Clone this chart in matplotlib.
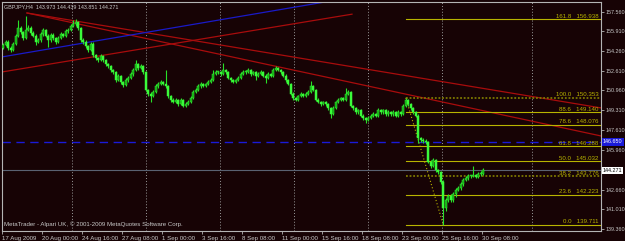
import matplotlib.pyplot as plt

# GBPJPY H4 candles, 17 Aug - 30 Sep 2009
closes = [
    154.77, 155.02, 154.52, 154.35, 154.86, 155.53, 156.20, 155.86, 155.36, 156.03,
    156.20, 155.78, 155.53, 155.02, 155.19, 155.69, 156.03, 155.53, 155.19, 155.61,
    155.36, 155.02, 155.36, 155.69, 155.53, 155.94, 156.03, 156.36, 156.53, 156.70,
    156.20, 155.19, 155.02, 154.69, 154.35, 154.86, 153.93, 153.68, 153.52, 153.85,
    153.52, 153.18, 153.01, 152.68, 152.51, 151.84, 152.18, 151.67, 151.42, 151.84,
    152.01, 152.34, 152.68, 153.18, 152.85, 153.01, 152.51, 151.00, 150.67, 150.50,
    150.84, 151.34, 151.51, 151.67, 151.51, 151.34, 150.50, 150.17, 150.00, 150.17,
    149.83, 150.17, 149.66, 149.83, 150.00, 150.33, 150.84, 151.00, 151.34, 151.51,
    151.34, 151.51, 151.67, 151.84, 152.34, 152.51, 152.51, 152.34, 152.68, 152.51,
    152.01, 151.84, 151.67, 151.84, 152.01, 152.34, 152.51, 152.51, 152.68, 152.34,
    152.51, 152.18, 152.34, 152.51, 152.18, 152.01, 152.34, 152.18, 152.68, 152.85,
    152.68, 152.51, 152.18, 151.84, 151.51, 150.67, 150.33, 150.17, 150.50, 150.67,
    150.50, 150.67, 150.84, 151.34, 151.00, 150.17, 150.00, 149.83, 150.00, 149.83,
    149.49, 148.99, 149.49, 150.00, 150.17, 150.33, 150.17, 150.67, 150.84, 149.66,
    149.49, 149.16, 149.33, 148.83, 148.66, 148.49, 148.66, 148.83, 148.99, 148.83,
    149.33, 149.16, 149.33, 148.99, 149.16, 148.99, 149.16, 148.83, 149.16, 148.99,
    149.66, 150.17, 149.83, 149.49, 149.16, 148.83, 146.98, 146.82, 146.73, 146.65,
    144.97, 144.64, 145.14, 144.30, 144.13, 143.30, 141.12, 141.79, 142.13, 141.79,
    142.29, 142.63, 142.79, 143.13, 143.47, 143.63, 143.80, 143.80, 143.88, 143.72,
    143.97, 143.973, 144.271,
]
highs = [
    154.95, 155.20, 155.15, 154.66, 155.00, 155.70, 156.87, 156.35, 155.98, 157.20,
    156.45, 156.32, 155.90, 155.65, 155.35, 155.85, 156.20, 156.15, 155.65, 155.78,
    155.75, 155.48, 155.50, 155.85, 155.80, 156.10, 156.20, 156.55, 156.87, 156.95,
    156.82, 156.30, 155.35, 155.15, 154.80, 155.00, 154.98, 154.05, 153.80, 154.00,
    153.95, 153.62, 153.30, 153.12, 152.80, 152.62, 152.35, 152.28, 151.78, 151.98,
    152.15, 152.50, 152.85, 153.52, 153.30, 153.15, 153.12, 152.62, 151.12, 150.80,
    151.00, 151.50, 151.65, 151.80, 151.78, 152.68, 151.45, 150.62, 150.30, 150.30,
    150.28, 150.30, 150.28, 149.98, 150.15, 150.48, 151.00, 151.15, 151.50, 151.65,
    151.62, 151.62, 151.80, 151.98, 152.68, 152.65, 152.62, 152.62, 153.26, 152.80,
    152.62, 152.12, 151.95, 151.95, 152.15, 152.50, 152.65, 152.68, 152.85, 152.80,
    152.62, 152.62, 152.48, 152.65, 152.62, 152.30, 152.48, 152.45, 152.85, 153.00,
    152.95, 152.80, 152.62, 152.30, 151.95, 151.62, 150.80, 150.45, 150.62, 150.80,
    150.78, 150.80, 151.00, 151.76, 151.45, 151.12, 150.30, 150.12, 150.12, 150.12,
    149.95, 149.60, 149.62, 150.12, 150.30, 150.45, 150.45, 151.17, 151.00, 150.95,
    149.78, 149.60, 149.45, 149.45, 148.95, 148.78, 148.80, 148.95, 149.12, 149.10,
    149.50, 149.45, 149.45, 149.45, 149.30, 149.28, 149.35, 149.28, 149.30, 149.28,
    149.80, 150.353, 150.28, 149.95, 149.60, 149.28, 148.95, 147.10, 146.95, 146.88,
    146.75, 145.10, 145.30, 145.25, 144.42, 144.25, 143.42, 141.95, 142.30, 142.25,
    142.45, 142.80, 142.95, 143.30, 143.62, 143.78, 143.95, 143.92, 144.64, 144.00,
    144.10, 144.20, 144.439,
]
lows = [
    154.40, 154.65, 154.38, 154.18, 154.25, 154.75, 155.40, 155.70, 155.20, 155.25,
    155.90, 155.62, 155.40, 154.80, 154.90, 155.05, 155.55, 155.40, 154.60, 155.05,
    155.20, 154.85, 154.90, 155.25, 155.40, 155.42, 155.80, 155.92, 156.25, 156.40,
    156.05, 155.05, 154.85, 154.50, 154.15, 154.25, 153.80, 153.50, 153.35, 153.40,
    153.38, 153.05, 152.85, 152.50, 152.35, 151.70, 151.72, 151.50, 151.25, 151.30,
    151.70, 151.90, 152.20, 152.55, 152.70, 152.72, 152.38, 150.88, 150.50, 150.00,
    150.38, 150.72, 151.20, 151.40, 151.38, 151.20, 150.35, 150.00, 149.91, 149.88,
    149.70, 149.72, 149.55, 149.55, 149.72, 149.90, 150.22, 150.72, 150.90, 151.20,
    151.22, 151.22, 151.40, 151.55, 151.72, 152.22, 152.38, 152.20, 152.22, 152.38,
    151.88, 151.70, 151.55, 151.55, 151.72, 151.90, 152.22, 152.38, 152.40, 152.20,
    152.22, 151.80, 152.05, 152.22, 152.05, 151.60, 151.90, 152.05, 152.05, 152.55,
    152.55, 152.38, 152.05, 151.70, 151.38, 150.55, 150.20, 150.05, 150.05, 150.38,
    150.38, 150.38, 150.55, 150.72, 150.88, 150.05, 149.88, 149.70, 149.72, 149.70,
    149.35, 148.66, 148.88, 149.38, 149.88, 150.05, 150.05, 150.05, 150.55, 149.55,
    149.35, 149.02, 149.02, 148.70, 148.52, 148.24, 148.38, 148.55, 148.72, 148.72,
    148.72, 149.02, 149.02, 148.85, 148.85, 148.85, 148.85, 148.70, 148.72, 148.85,
    148.88, 149.55, 149.70, 149.35, 149.02, 148.70, 146.56, 146.65, 146.60, 146.50,
    144.85, 144.50, 144.52, 144.15, 143.98, 143.15, 139.711, 140.90, 141.62, 141.62,
    141.65, 142.04, 142.50, 142.65, 143.00, 143.35, 143.50, 143.65, 143.70, 143.60,
    143.62, 143.80, 143.851,
]
first_open = 154.52
opens = [first_open] + closes[:-1]

x_tick_pos = [0, 16, 32, 48, 64, 80, 96, 112, 128, 144, 160, 176, 192]
x_tick_labels = ['17 Aug 2009', '20 Aug 00:00', '24 Aug 16:00', '27 Aug 08:00',
                 '1 Sep 00:00', '3 Sep 16:00', '8 Sep 08:00', '11 Sep 00:00',
                 '15 Sep 16:00', '18 Sep 08:00', '23 Sep 00:00', '25 Sep 16:00',
                 '30 Sep 08:00']
y_ticks = [157.560, 155.910, 154.260, 152.610, 150.960, 149.310, 147.610,
           145.960, 142.660, 141.010, 139.360]
grid_pos = [28, 57.6, 87.2, 116.8, 146.4, 176, 212]

fib_ratios = ['161.8', '100.0', '88.6', '78.6', '61.8', '50.0', '38.2', '23.6', '0.0']
fib_prices = [156.938, 150.353, 149.140, 148.076, 146.288, 145.032, 143.776, 142.223, 139.711]
fib_start = 161.5
fib_swing = [(161.5, 150.353), (176.5, 139.711)]

red_lines = [[(10, 157.45), (239.6, 147.15)],
             [(10, 157.45), (239.6, 149.50)],
             [(0, 152.51), (140, 157.35)]]
blue_line = [(0, 153.77), (130, 158.40)]
blue_level = 146.650
bid = 144.271

bg = '#170305'
fg = '#c8c8c8'
fib_col = '#b8b400'
font = 'Liberation Sans'
fs = 4.4
fs_axis = 3.9

fig = plt.figure(figsize=(6.25, 2.41), dpi=100, facecolor=bg)
ax = fig.add_axes([2 / 625, 10 / 241, 599 / 625, 229 / 241])
ax.set_facecolor(bg)
ax.set_xlim(0, 239.6)
ax.set_ylim(139.19, 158.37)

for g in grid_pos:
    ax.axvline(g, color='#9a9a9a', lw=0.7, ls=(0, (1, 2)), zorder=1)

# candles
xs = [i + 0.5 for i in range(len(closes))]
ax.vlines(xs, lows, highs, color='#28e028', lw=0.8, zorder=3)
for x, o, c in zip(xs, opens, closes):
    bottom = min(o, c)
    h = max(abs(c - o), 0.04)
    col = '#10a810' if c >= o else '#3cff3c'
    ax.bar(x, h, bottom=bottom, width=0.85, color=col, edgecolor='#38f038',
           linewidth=0.35, zorder=4)

# trend lines
for (x0, y0), (x1, y1) in red_lines:
    ax.plot([x0, x1], [y0, y1], color='#a80c0c', lw=0.9, zorder=2)
(bx0, by0), (bx1, by1) = blue_line
ax.plot([bx0, bx1], [by0, by1], color='#1a1ac8', lw=0.9, zorder=2)
ax.axhline(blue_level, color='#1a1ad8', lw=1.0, ls=(0, (6, 4)), zorder=2)
ax.axhline(bid, color='#5a6272', lw=0.8, zorder=2)

# fibonacci
for r, p in zip(fib_ratios, fib_prices):
    if r in ('100.0', '38.2'):
        ax.plot([fib_start, 239.6], [p, p], color='#7c7800', lw=1.3,
                ls=(0, (1, 1)), zorder=2)
    else:
        ax.plot([fib_start, 239.6], [p, p], color=fib_col, lw=0.8, zorder=2)
    ax.text(238.6, p + 0.05, f'{r}   {p:.3f}', color=fib_col, fontsize=fs,
            family=font, ha='right', va='bottom', zorder=5)
(fx0, fy0), (fx1, fy1) = fib_swing
ax.plot([fx0, fx1], [fy0, fy1], color=fib_col, lw=0.8, ls=(0, (1, 2)), zorder=2)

for s in ax.spines.values():
    s.set_color('#b4b4b4')
    s.set_linewidth(0.8)

ax.yaxis.tick_right()
ax.set_yticks(y_ticks)
ax.set_yticklabels([f'{v:.3f}' for v in y_ticks])
ax.set_xticks(x_tick_pos)
ax.set_xticklabels(x_tick_labels, ha='left')
ax.tick_params(colors='#b4b4b4', labelcolor=fg, length=2.5, width=0.6,
               labelsize=fs, pad=1.2)
ax.tick_params(axis='y', labelsize=fs_axis, pad=0.8)
for lab in ax.get_xticklabels() + ax.get_yticklabels():
    lab.set_family(font)

# price boxes on the scale
ax.text(1.003, blue_level, f'{blue_level:.3f}', transform=ax.get_yaxis_transform(),
        color='white', fontsize=fs_axis, family=font, va='center', ha='left',
        bbox=dict(boxstyle='square,pad=0.2', fc='#1a1ad8', ec='none'), zorder=6,
        clip_on=False)
ax.text(1.003, bid, f'{bid:.3f}', transform=ax.get_yaxis_transform(),
        color='black', fontsize=fs_axis, family=font, va='center', ha='left',
        bbox=dict(boxstyle='square,pad=0.2', fc='white', ec='none'), zorder=6,
        clip_on=False)

fig.text(4 / 625, 1 - 7 / 241, 'GBPJPY,H4  143.973 144.439 143.851 144.271',
         color=fg, fontsize=3.9, family=font, va='center')
fig.text(4 / 625, 1 - 224 / 241,
         'MetaTrader - Alpari UK, \u00a9 2001-2009 MetaQuotes Software Corp.',
         color=fg, fontsize=fs, family=font, va='center')

fig.savefig('out.png', dpi=100, facecolor=bg)
